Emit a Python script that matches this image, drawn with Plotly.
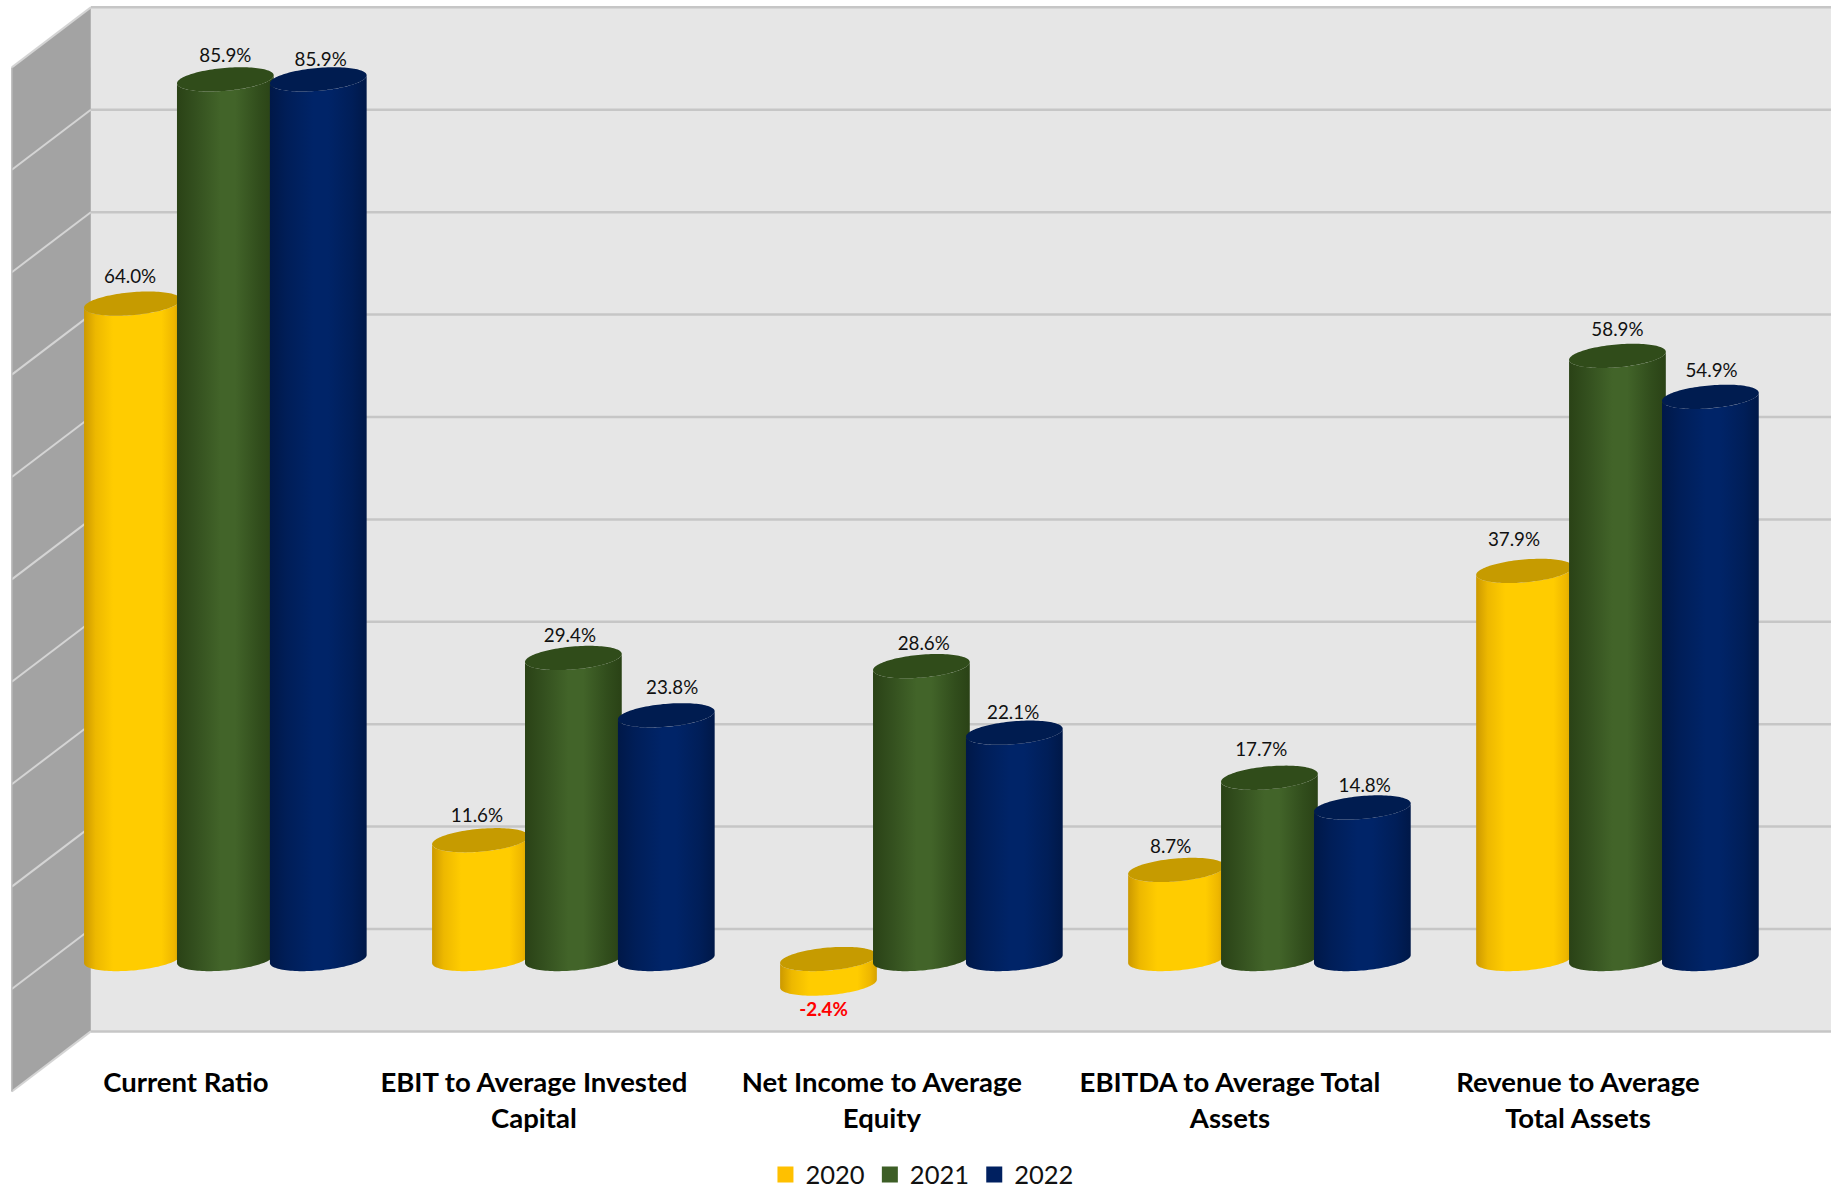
import numpy as np
import plotly.graph_objects as go

# Chart data
categories = [
    "Current Ratio",
    "EBIT to Average Invested<br>Capital",
    "Net Income to Average<br>Equity",
    "EBITDA to Average Total<br>Assets",
    "Revenue to Average<br>Total Assets",
]
years = ["2020", "2021", "2022"]
values_2020 = [64.0, 11.6, -2.4, 8.7, 37.9]
values_2021 = [85.9, 29.4, 28.6, 17.7, 58.9]
values_2022 = [85.9, 23.8, 22.1, 14.8, 54.9]
series_values = [values_2020, values_2021, values_2022]
wall_ticks = [-10, 0, 10, 20, 30, 40, 50, 60, 70, 80, 90]

# Hand placement of the value labels, in screen pixels (right, down), per series
label_nudge_x = [[-2, -3, 0, -5, -9], [0, -3, 2, -7, 0], [2, 5, -1, 2, 1]]
label_nudge_y = [[-1, 1, 3, 2, -5], [2, 3, 3, -2, 0], [5, -2, 5, 3, 0]]

# Series styling: cap colour and the left-to-right shading of the cylinder side
legend_colors = ["#FFC000", "#3D5E26", "#002060"]
cap_colors = ["#C69B00", "#304C1A", "#001C50"]
side_shades = [
    [[0, "#CC9900"], [0.12, "#EDB800"], [0.3, "#FFCC00"], [0.8, "#FFCC00"], [0.93, "#EEB700"], [1, "#D6A200"]],
    [[0, "#2A4216"], [0.18, "#334F1E"], [0.45, "#426429"], [0.6, "#426429"], [0.85, "#314D1C"], [1, "#2A4216"]],
    [[0, "#001848"], [0.18, "#001E58"], [0.45, "#002468"], [0.6, "#002468"], [0.85, "#001E58"], [1, "#001848"]],
]

# Oblique projection of the box: depth 1 is the back wall, 0 the front plane
DEPTH_X = 0.227
DEPTH_Y = 5.86
BAR_DEPTH = 0.5
BAR_STEP = 0.267
RADIUS_X = 0.139
RADIUS_Y = 1.12
TILT = 0.39
LABEL_GAP = 2.35
X_RANGE = [-0.534, 4.7386]
Y_RANGE = [-19.43, 96.58]
X_MIN, X_MAX = -0.5, 4.5
PX_PER_CATEGORY = 348.0
PX_PER_PERCENT = 10.24


def ellipse(cx, cy, t):
    return cx + RADIUS_X * np.cos(t), cy + RADIUS_Y * np.sin(t) + TILT * np.cos(t)


fig = go.Figure()


def polygon(xs, ys, color):
    fig.add_trace(go.Scatter(x=list(xs), y=list(ys), mode="none", fill="toself", fillcolor=color,
                             hoverinfo="skip", showlegend=False))


def segments(pairs, color, width):
    xs, ys = [], []
    for (x0, y0), (x1, y1) in pairs:
        xs += [x0, x1, None]
        ys += [y0, y1, None]
    fig.add_trace(go.Scatter(x=xs, y=ys, mode="lines", line=dict(color=color, width=width),
                             hoverinfo="skip", showlegend=False))


# Walls
low, high = wall_ticks[0], wall_ticks[-1]
back_left = X_MIN + DEPTH_X
back_right = X_MAX + DEPTH_X
polygon([back_left, back_right, back_right, back_left],
        [low + DEPTH_Y, low + DEPTH_Y, high + DEPTH_Y, high + DEPTH_Y], "#E6E6E6")
polygon([X_MIN, back_left, back_left, X_MIN],
        [low, low + DEPTH_Y, high + DEPTH_Y, high], "#A3A3A3")

# Gridlines along the back wall and across the side wall
segments([((back_left, v + DEPTH_Y), (back_right, v + DEPTH_Y)) for v in wall_ticks], "#C6C6C6", 2.5)
segments([((X_MIN, v), (back_left, v + DEPTH_Y)) for v in wall_ticks], "#D4D4D4", 2)
segments([((X_MIN, low), (X_MIN, high))], "#BDBDBD", 1.5)

# Cylinders, one group per category, drawn left to right so later series overlap earlier ones
lower_arc = np.linspace(np.pi, 2 * np.pi, 60)
full_turn = np.linspace(0, 2 * np.pi, 120)
for group in range(len(categories)):
    for s, vals in enumerate(series_values):
        v = vals[group]
        cx = group + DEPTH_X * BAR_DEPTH + (s - 1) * BAR_STEP
        top_level = max(v, 0) + DEPTH_Y * BAR_DEPTH
        bottom_level = min(v, 0) + DEPTH_Y * BAR_DEPTH
        bx, by = ellipse(cx, bottom_level, lower_arc)
        tx, ty = ellipse(cx, top_level, lower_arc[::-1])
        fig.add_trace(go.Scatter(
            x=np.concatenate([bx, tx]), y=np.concatenate([by, ty]), mode="none", fill="toself",
            fillgradient=dict(type="horizontal", colorscale=side_shades[s]),
            hoverinfo="skip", showlegend=False))
        cap_x, cap_y = ellipse(cx, top_level, full_turn)
        polygon(cap_x, cap_y, cap_colors[s])

# Value labels sit above each cap, or below the cylinder for a negative value
for s, vals in enumerate(series_values):
    xs = [g + DEPTH_X * BAR_DEPTH + (s - 1) * BAR_STEP + (-0.014 if v < 0 else 0)
          + label_nudge_x[s][g] * 1.17 / PX_PER_CATEGORY for g, v in enumerate(vals)]
    ys = [v + DEPTH_Y * BAR_DEPTH + (LABEL_GAP if v >= 0 else -LABEL_GAP)
          - label_nudge_y[s][g] * 1.17 / PX_PER_PERCENT for g, v in enumerate(vals)]
    text = [f"{v:.1f}%" if v >= 0 else f"<b>{v:.1f}%</b>" for v in vals]
    fig.add_trace(go.Scatter(
        x=xs, y=ys, mode="text", text=text, textposition="middle center",
        textfont=dict(family="Lato", size=18.8, color=["#111111" if v >= 0 else "#FF0000" for v in vals]),
        hoverinfo="skip", showlegend=False))

# Legend entries
for name, color in zip(years, legend_colors):
    fig.add_trace(go.Scatter(x=[None], y=[None], mode="markers", name=name,
                             marker=dict(symbol="square", size=16, color=color)))

fig.update_layout(
    width=1835,
    height=1188,
    margin=dict(l=0, r=0, t=0, b=0, pad=0, autoexpand=False),
    paper_bgcolor="white",
    plot_bgcolor="white",
    xaxis=dict(
        range=X_RANGE, tickmode="array", tickvals=list(range(len(categories))), ticktext=categories,
        showgrid=False, zeroline=False, showline=False, ticks="", anchor="free", position=0.1046,
        tickfont=dict(family="Lato", size=27.5, color="#000000", weight="bold"), automargin=False,
    ),
    yaxis=dict(range=Y_RANGE, visible=False, showgrid=False, zeroline=False, automargin=False),
    legend=dict(
        orientation="h", x=0.5027, xanchor="center", y=-0.0087, yanchor="bottom",
        font=dict(family="Lato", size=25.5, color="#111111"), bgcolor="rgba(0,0,0,0)",
        entrywidthmode="pixels", entrywidth=59.4, itemclick=False, itemdoubleclick=False,
        traceorder="normal",
    ),
)

fig.write_html("out.html")
